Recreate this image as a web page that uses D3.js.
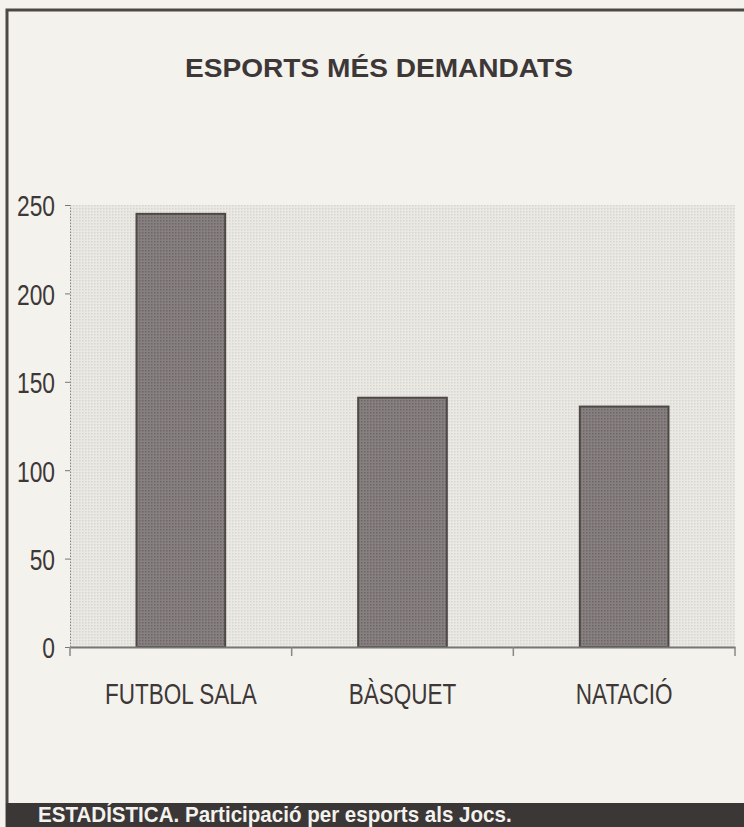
<!DOCTYPE html>
<html>
<head>
<meta charset="utf-8">
<script src="https://cdn.jsdelivr.net/npm/d3@7"></script>
<style>
  body { margin: 0; background: #f4f2ed; }
  svg { display: block; }
</style>
</head>
<body>
<div class="chart"></div>
<script>
const categories = ["FUTBOL SALA", "BÀSQUET", "NATACIÓ"];
const values = [245, 141, 136];
const yTicks = [0, 50, 100, 150, 200, 250];
const title = "ESPORTS MÉS DEMANDATS";
const caption = "ESTADÍSTICA. Participació per esports als Jocs.";

const W = 744, H = 827;
const margin = { top: 205, right: 9, bottom: 180, left: 70 };
const width = W - margin.left - margin.right,
  height = H - margin.top - margin.bottom;
const narrow = 0.76; // condensed look

const svg = d3.select(".chart").append("svg")
  .attr("width", W).attr("height", H);

// frame
svg.append("rect")
  .attr("x", 7).attr("y", 10).attr("width", W + 10).attr("height", H)
  .attr("fill", "#f4f2ec").attr("stroke", "#4d4745").attr("stroke-width", 3);

svg.append("text")
  .attr("transform", "translate(379,77) scale(1.08,1)")
  .attr("text-anchor", "middle")
  .attr("font-family", "Liberation Sans, Arial, sans-serif")
  .attr("font-weight", "bold").attr("font-size", 26)
  .attr("fill", "#3d3837")
  .text(title);

const g = svg.append("g")
  .attr("transform", `translate(${margin.left},${margin.top})`);

const x = d3.scaleBand().domain(categories).range([0, width]).paddingInner(0.6).paddingOuter(0.3);
const xb = d3.scaleBand().domain(categories).range([0, width]);
const y = d3.scaleLinear().domain([0, 250]).range([height, 0]);

// dotted textures
const defs = svg.append("defs");
const pat = defs.append("pattern").attr("id", "dots")
  .attr("width", 3).attr("height", 3).attr("patternUnits", "userSpaceOnUse");
pat.append("rect").attr("width", 3).attr("height", 3).attr("fill", "#ebe9e3");
pat.append("rect").attr("width", 1.5).attr("height", 1.5).attr("fill", "#d8d6cf");

const bpat = defs.append("pattern").attr("id", "bardots")
  .attr("width", 3).attr("height", 3).attr("patternUnits", "userSpaceOnUse");
bpat.append("rect").attr("width", 3).attr("height", 3).attr("fill", "#878080");
bpat.append("rect").attr("width", 1.5).attr("height", 1.5).attr("fill", "#6d6665");

g.append("rect")
  .attr("width", width).attr("height", height)
  .attr("fill", "url(#dots)");

g.selectAll(".bar")
  .data(values)
  .join("rect")
  .attr("class", "bar")
  .attr("x", (d, i) => x(categories[i]))
  .attr("width", x.bandwidth())
  .attr("y", d => y(d))
  .attr("height", d => height - y(d))
  .attr("fill", "url(#bardots)")
  .attr("stroke", "#4e4847").attr("stroke-width", 2);

// y axis
const yAxis = g.append("g")
  .call(d3.axisLeft(y).tickValues(yTicks).tickSize(5));
yAxis.select(".domain").attr("stroke", "#8a8482").attr("stroke-dasharray", "1.5,1.5");
yAxis.selectAll(".tick line").attr("stroke", "#777");
yAxis.selectAll("text")
  .attr("x", 0).attr("dy", "0.36em")
  .attr("transform", `translate(-15,0) scale(${narrow},1)`)
  .attr("font-family", "Liberation Sans, Arial, sans-serif")
  .attr("font-size", 30).attr("fill", "#3d3837");

// x axis
const xAxis = g.append("g")
  .attr("transform", `translate(0,${height})`)
  .call(d3.axisBottom(xb).tickSize(0));
xAxis.select(".domain").attr("stroke", "#777").attr("stroke-width", 2);
xAxis.selectAll("text")
  .attr("y", 0).attr("dy", 0)
  .attr("transform", `translate(0,57) scale(0.75,1)`)
  .attr("font-family", "Liberation Sans, Arial, sans-serif")
  .attr("font-size", 30).attr("fill", "#3d3837");
xAxis.selectAll(".sep")
  .data(d3.range(categories.length + 1))
  .join("line")
  .attr("class", "sep")
  .attr("x1", i => i * xb.step()).attr("x2", i => i * xb.step())
  .attr("y1", 0).attr("y2", 9)
  .attr("stroke", "#888").attr("stroke-width", 1.5);

// caption bar
svg.append("rect")
  .attr("x", 6).attr("y", 803).attr("width", W).attr("height", 24)
  .attr("fill", "#3b3736");
svg.append("text")
  .attr("transform", "translate(38,822) scale(0.935,1)")
  .attr("font-family", "Liberation Sans, Arial, sans-serif")
  .attr("font-weight", "bold").attr("font-size", 22)
  .attr("fill", "#f4f2ee")
  .text(caption);
</script>
</body>
</html>
